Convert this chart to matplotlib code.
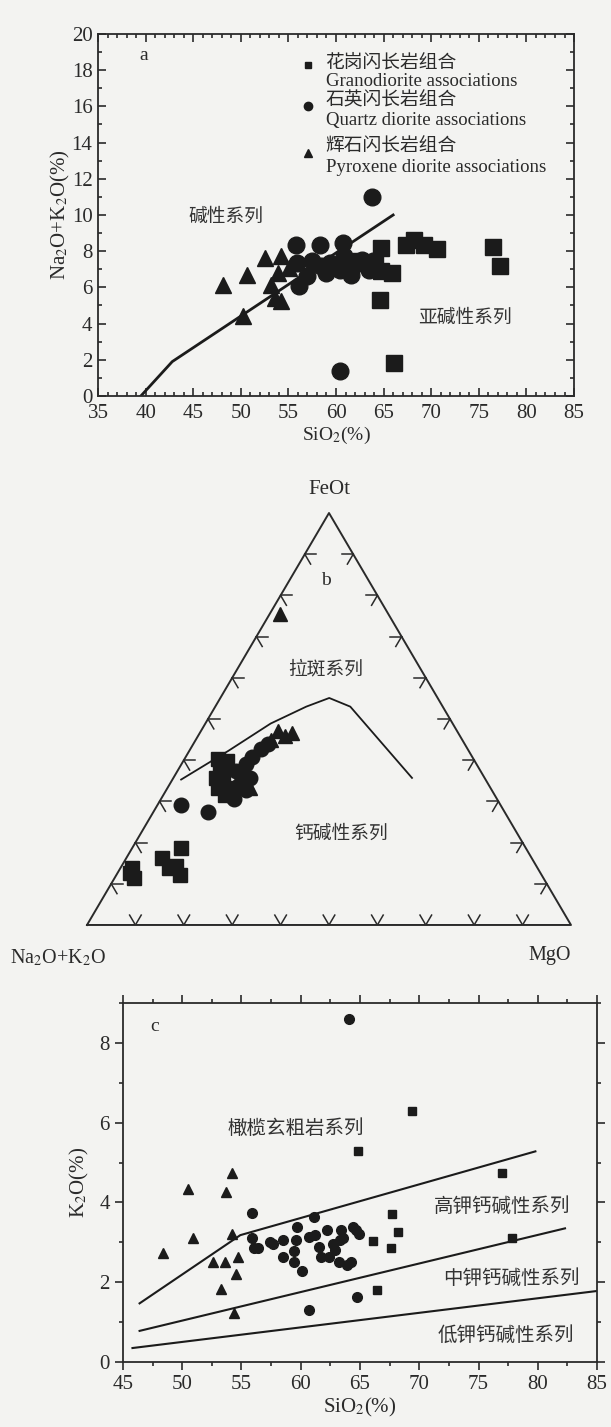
import numpy as np
import matplotlib
matplotlib.use('Agg')
import matplotlib.pyplot as plt
from matplotlib.ticker import MultipleLocator

plt.rcParams['font.family'] = ['Liberation Serif', 'Noto Sans CJK SC']
plt.rcParams['mathtext.fontset'] = 'stix'
plt.rcParams['axes.unicode_minus'] = False

INK = '#1b1b1b'
BG = '#f3f3f1'
TXT = '#2a2a2a'

# ---------------- a: SiO2 - (Na2O+K2O) ----------------
a_sq_si = [64.7, 67.4, 68.2, 69.2, 70.6, 76.5, 77.2, 65.9, 64.7, 64.1, 63.1, 61.8, 64.6, 66.1]
a_sq_alk = [8.17, 8.35, 8.62, 8.35, 8.11, 8.22, 7.16, 6.79, 6.88, 7.34, 7.34, 7.43, 5.32, 1.83]
a_ci_si = [55.8, 58.3, 60.7, 55.9, 57.5, 56.1, 59.0, 60.4, 61.6, 59.4, 60.8, 62.7, 63.9, 63.5,
           61.8, 56.9, 58.4, 61.2, 63.8, 60.4]
a_ci_alk = [8.35, 8.35, 8.44, 7.34, 7.43, 6.06, 6.79, 6.97, 6.70, 7.34, 7.71, 7.52, 7.43, 6.97,
            7.16, 6.61, 7.16, 7.34, 10.97, 1.38]
a_tr_si = [48.1, 50.6, 52.5, 54.2, 50.2, 53.2, 53.6, 54.2, 53.9, 55.1]
a_tr_alk = [6.15, 6.70, 7.61, 7.71, 4.40, 6.15, 5.41, 5.23, 6.79, 7.06]
# alkaline / subalkaline boundary
a_line_si = [39.5, 42.8, 66.0]
a_line_alk = [0.0, 1.9, 10.0]

# ---------------- b: AFM ternary (Na2O+K2O, FeOt, MgO) ----------------
b_sq_A = [0.528, 0.512, 0.537, 0.554, 0.544, 0.563, 0.557, 0.534, 0.539,
          0.712, 0.764, 0.762, 0.748, 0.746, 0.839, 0.847, 0.848]
b_sq_F = [0.402, 0.398, 0.378, 0.357, 0.349, 0.332, 0.316, 0.332, 0.365,
          0.188, 0.163, 0.138, 0.121, 0.142, 0.138, 0.113, 0.126]
b_ci_A = [0.407, 0.428, 0.456, 0.476, 0.496, 0.485, 0.516, 0.507, 0.543, 0.549,
          0.660, 0.614, 0.543, 0.506]
b_ci_F = [0.440, 0.427, 0.407, 0.390, 0.365, 0.357, 0.340, 0.328, 0.307, 0.316,
          0.291, 0.274, 0.357, 0.374]
b_tr_A = [0.223, 0.370, 0.343, 0.362, 0.396, 0.498]
b_tr_F = [0.755, 0.471, 0.466, 0.458, 0.448, 0.332]
# tholeiitic / calc-alkaline boundary
b_line_A = [0.629, 0.496, 0.376, 0.282, 0.224, 0.191, 0.150]
b_line_F = [0.353, 0.423, 0.489, 0.530, 0.551, 0.530, 0.357]

# ---------------- c: SiO2 - K2O ----------------
c_sq_si = [64.85, 69.4, 77.0, 67.7, 68.2, 66.1, 67.6, 66.4, 77.8]
c_sq_k = [5.28, 6.30, 4.73, 3.71, 3.27, 3.04, 2.85, 1.80, 3.10]
c_ci_si = [64.1, 55.9, 55.9, 56.05, 56.4, 57.4, 57.7, 58.5, 58.5, 59.4, 59.4, 59.6, 59.7,
           60.1, 60.7, 60.7, 61.1, 61.2, 61.5, 61.7, 62.2, 62.4, 62.7, 62.9, 63.2, 63.4,
           63.6, 63.9, 64.2, 64.4, 64.7, 64.9, 64.75, 63.3]
c_ci_k = [8.60, 3.73, 3.10, 2.87, 2.87, 3.02, 2.97, 3.07, 2.64, 2.51, 2.78, 3.07, 3.39,
          2.28, 1.31, 3.14, 3.63, 3.18, 2.89, 2.64, 3.31, 2.64, 2.97, 2.81, 2.51, 3.32,
          3.10, 2.43, 2.51, 3.39, 3.31, 3.21, 1.63, 3.07]
c_tr_si = [48.35, 50.5, 50.9, 52.6, 53.6, 53.7, 53.3, 54.2, 54.2, 54.7, 54.5, 54.4]
c_tr_k = [2.72, 4.34, 3.10, 2.51, 2.51, 4.27, 1.84, 4.73, 3.22, 2.64, 2.20, 1.23]
c_sho_si = [46.4, 54.9, 79.8]
c_sho_k = [1.47, 3.18, 5.28]
c_hk_si = [46.4, 82.3]
c_hk_k = [0.78, 3.35]
c_mk_si = [45.8, 85.0]
c_mk_k = [0.35, 1.78]

SQ3 = np.sqrt(3) / 2


def tern(A, F):
    A = np.asarray(A)
    F = np.asarray(F)
    M = 1 - A - F
    return M + F / 2, F * SQ3


fig = plt.figure(figsize=(6.11, 14.27), dpi=100, facecolor=BG)


def style_box(ax):
    for s in ax.spines.values():
        s.set_color(TXT)
        s.set_linewidth(1.3)
    ax.set_facecolor('none')


# ---- a ----
ax1 = fig.add_axes([0.1604, 0.7225, 0.7791, 0.2537])
style_box(ax1)
ax1.set_xlim(35, 85)
ax1.set_ylim(0, 20)
ax1.xaxis.set_major_locator(MultipleLocator(5))
ax1.xaxis.set_minor_locator(MultipleLocator(1))
ax1.yaxis.set_major_locator(MultipleLocator(2))
ax1.yaxis.set_minor_locator(MultipleLocator(1))
ax1.tick_params(which='both', direction='in', top=True, right=True, color=TXT,
                labelsize=15, labelcolor=TXT, width=1.2)
ax1.tick_params(which='major', length=6)
ax1.tick_params(which='minor', length=3)
ax1.tick_params(axis='x', pad=6)
ax1.tick_params(axis='y', pad=4)
ax1.plot(a_line_si, a_line_alk, color=INK, lw=2)
ax1.plot(a_sq_si, a_sq_alk, 's', color=INK, ms=11, ls='none')
ax1.plot(a_ci_si, a_ci_alk, 'o', color=INK, ms=12, ls='none')
ax1.plot(a_tr_si, a_tr_alk, '^', color=INK, ms=12, ls='none')
ax1.set_xlabel('SiO$_2$(%)', fontsize=14, color=TXT, labelpad=1)
ax1.set_ylabel('Na$_2$O+K$_2$O(%)', fontsize=15, color=TXT, labelpad=0)
ax1.text(39.3, 18.8, 'a', fontsize=14, color=TXT, va='center')
ax1.text(48.4, 9.9, '碱性系列', fontsize=13.5, color='#333', ha='center', va='center')
ax1.text(73.5, 4.3, '亚碱性系列', fontsize=13.5, color='#333', ha='center', va='center')
# legend
ax1.plot([57.1], [18.3], 's', color=INK, ms=5)
ax1.plot([57.1], [16.0], 'o', color=INK, ms=6)
ax1.plot([57.1], [13.4], '^', color=INK, ms=6)
leg = [(18.4, '花岗闪长岩组合'), (17.35, 'Granodiorite associations'),
       (16.3, '石英闪长岩组合'), (15.2, 'Quartz diorite associations'),
       (13.75, '辉石闪长岩组合'), (12.6, 'Pyroxene diorite associations')]
for yy, tx in leg:
    ax1.text(58.9, yy, tx, fontsize=13.5, color=TXT, va='center')

# ---- b ----
ax2 = fig.add_axes([0.1424, 0.3518, 0.7921, 0.2887])
ax2.set_xlim(0, 1)
ax2.set_ylim(0, SQ3)
ax2.axis('off')
ax2.plot([0, 1, 0.5, 0], [0, 0, SQ3, 0], color=TXT, lw=1.4, clip_on=False)
L = 0.024
for t in np.arange(1, 10) / 10:
    # base
    px, py = t, 0
    for ang in (60, 120):
        r = np.radians(ang)
        ax2.plot([px, px + L * np.cos(r)], [py, py + L * np.sin(r)], color=TXT, lw=1.1)
    # left side
    px, py = 0.5 * t, SQ3 * t
    for ang in (0, -60):
        r = np.radians(ang)
        ax2.plot([px, px + L * np.cos(r)], [py, py + L * np.sin(r)], color=TXT, lw=1.1)
    # right side
    px, py = 1 - 0.5 * t, SQ3 * t
    for ang in (180, 240):
        r = np.radians(ang)
        ax2.plot([px, px + L * np.cos(r)], [py, py + L * np.sin(r)], color=TXT, lw=1.1)
lx, ly = tern(b_line_A, b_line_F)
ax2.plot(lx, ly, color=INK, lw=1.3)
x, y = tern(b_sq_A, b_sq_F)
ax2.plot(x, y, 's', color=INK, ms=10, ls='none', clip_on=False)
x, y = tern(b_ci_A, b_ci_F)
ax2.plot(x, y, 'o', color=INK, ms=10.5, ls='none', clip_on=False)
x, y = tern(b_tr_A, b_tr_F)
ax2.plot(x, y, '^', color=INK, ms=10.5, ls='none', clip_on=False)
ax2.text(0.5, SQ3 + 0.03, 'FeOt', fontsize=15, color=TXT, ha='center', va='bottom')
ax2.text(-0.16, -0.07, 'Na$_2$O+K$_2$O', fontsize=14.5, color=TXT, ha='left', va='center')
ax2.text(1.0, -0.065, 'MgO', fontsize=14.5, color=TXT, ha='right', va='center')
ax2.text(0.4927, 0.836 * SQ3, 'b', fontsize=14, color=TXT, ha='center', va='center')
ax2.text(0.493, 0.621 * SQ3, '拉斑系列', fontsize=13.5, color='#333', ha='center', va='center')
ax2.text(0.525, 0.221 * SQ3, '钙碱性系列', fontsize=13.5, color='#333', ha='center', va='center')

# ---- c ----
ax3 = fig.add_axes([0.2013, 0.04555, 0.7758, 0.2516])
style_box(ax3)
ax3.set_xlim(45, 85)
ax3.set_ylim(0, 9)
ax3.xaxis.set_major_locator(MultipleLocator(5))
ax3.xaxis.set_minor_locator(MultipleLocator(2.5))
ax3.yaxis.set_major_locator(MultipleLocator(2))
ax3.yaxis.set_minor_locator(MultipleLocator(1))
ax3.tick_params(which='both', direction='out', top=True, right=True, color=TXT,
                labelsize=15, labelcolor=TXT, width=1.2)
ax3.tick_params(which='major', length=6)
ax3.tick_params(which='minor', length=3)
ax3.plot(c_sho_si, c_sho_k, color=INK, lw=1.5)
ax3.plot(c_hk_si, c_hk_k, color=INK, lw=1.5)
ax3.plot(c_mk_si, c_mk_k, color=INK, lw=1.5)
ax3.plot(c_sq_si, c_sq_k, 's', color=INK, ms=6, ls='none')
ax3.plot(c_ci_si, c_ci_k, 'o', color=INK, ms=7, ls='none')
ax3.plot(c_tr_si, c_tr_k, '^', color=INK, ms=7.5, ls='none')
ax3.set_xlabel('SiO$_2$(%)', fontsize=15, color=TXT, labelpad=1)
ax3.set_ylabel('K$_2$O(%)', fontsize=15, color=TXT, labelpad=6)
ax3.text(47.7, 8.4, 'c', fontsize=14, color=TXT, ha='center', va='center')
ax3.text(59.6, 5.86, '橄榄玄粗岩系列', fontsize=14, color='#333', ha='center', va='center')
ax3.text(77.0, 3.9, '高钾钙碱性系列', fontsize=14, color='#333', ha='center', va='center')
ax3.text(77.8, 2.09, '中钾钙碱性系列', fontsize=14, color='#333', ha='center', va='center')
ax3.text(77.3, 0.67, '低钾钙碱性系列', fontsize=14, color='#333', ha='center', va='center')

fig.savefig('out.png', dpi=100, facecolor=BG)
